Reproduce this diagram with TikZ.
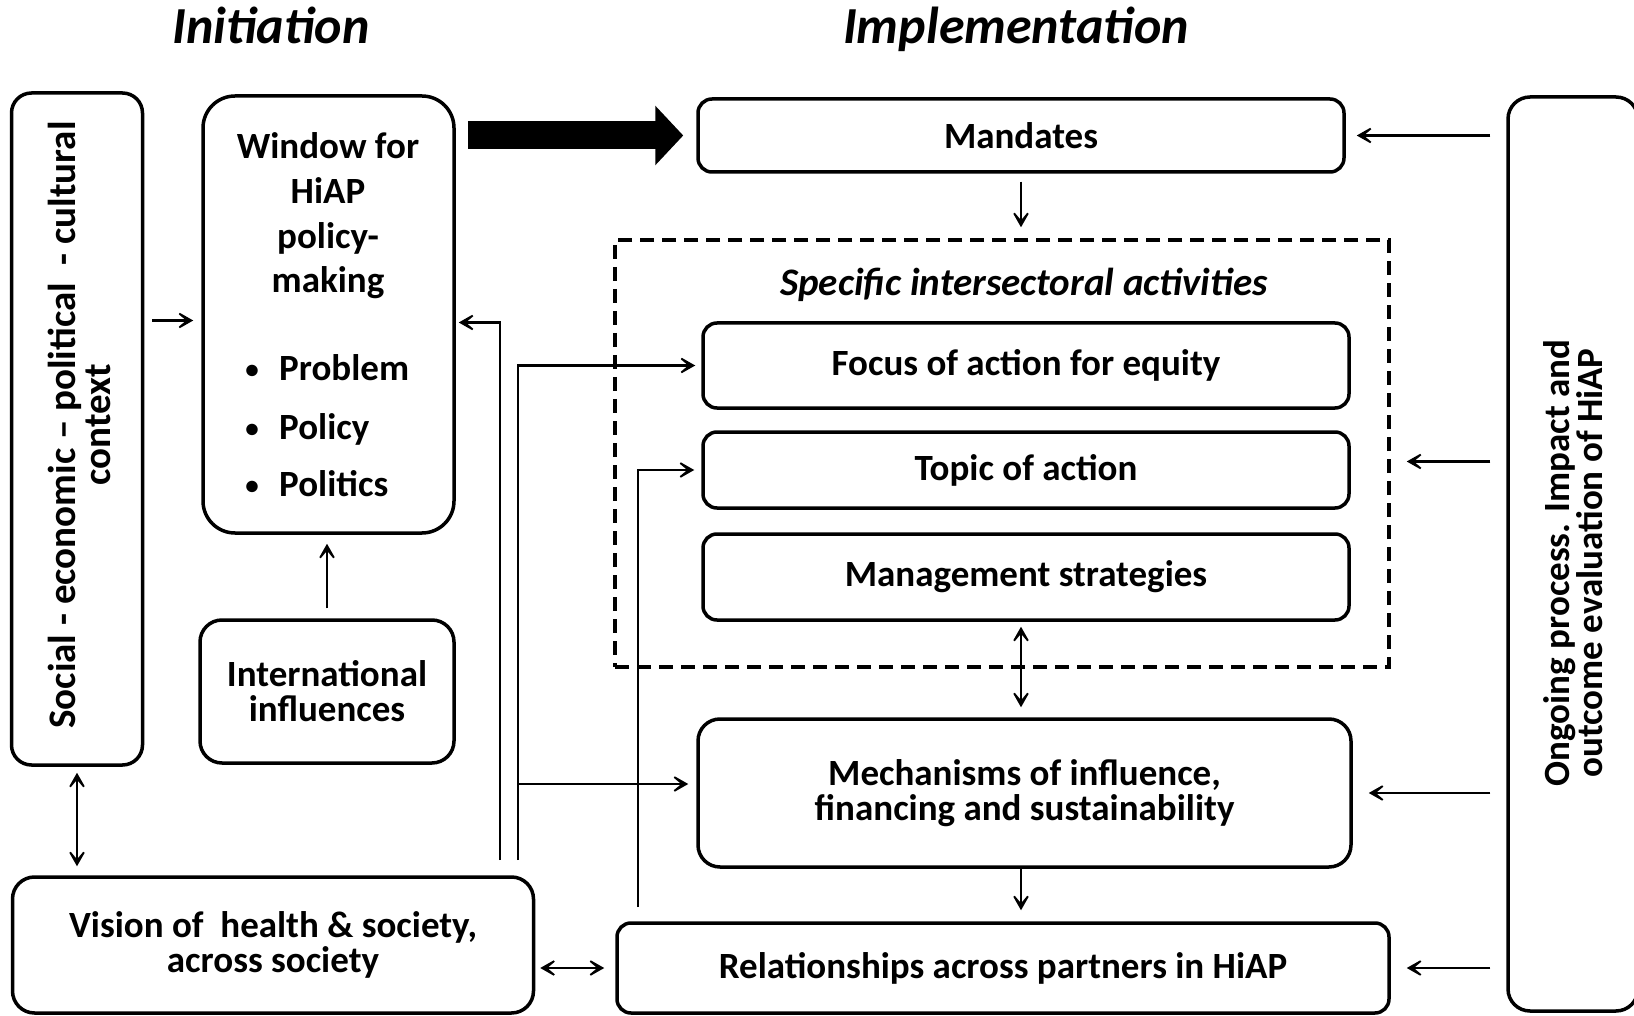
\documentclass[tikz,border=0pt]{standalone}
\usepackage{fontspec}
\setmainfont{Carlito}
\usetikzlibrary{arrows.meta}

\tikzset{
    box/.style={draw, line width=3.5pt, rounded corners=14pt, align=center, inner sep=0pt, font=\fontsize{37}{35}\selectfont\bfseries},
    txt/.style={align=center, inner sep=0pt, font=\fontsize{37}{35}\selectfont\bfseries},
    heading/.style={inner sep=0pt, anchor=base, font=\fontsize{52}{60}\selectfont\bfseries\itshape},
    arr/.style={line width=2.2pt, -{Stealth[length=22pt,width=25pt,inset=15pt]}},
    dblarr/.style={line width=2.2pt, {Stealth[length=22pt,width=25pt,inset=15pt]}-{Stealth[length=22pt,width=25pt,inset=15pt]}},
}

\begin{document}
\begin{tikzpicture}[x=1pt, y=-1pt]
    \useasboundingbox (0,0) rectangle (1634,1016);

    \node [heading] (initiation) at (271,44) {Initiation};
    \node [heading] (implementation) at (1016,44) {Implementation};

    % initiation side
    \node [box, rounded corners=20pt, minimum width=131pt, minimum height=672pt] (context) at (77,429) {};
    \node [txt, rotate=90, font=\fontsize{39}{35}\selectfont\bfseries] (contexttext) at (79,425) {Social - economic -- political\ \ - cultural\\context};

    \node [box, rounded corners=32pt, minimum width=251pt, minimum height=437pt] (window) at (328.5,314.5) {};
    \node [txt, font=\fontsize{37}{44.7}\selectfont\bfseries] (windowtext) at (328,216) {Window for\\HiAP\\policy-\\making};
    \foreach \y/\word [count=\i] in {369/Problem, 427/Policy, 484/Politics} {
        \node [txt, font=\fontsize{27}{30}\selectfont\bfseries, anchor=base] (dot\i) at (252,\y+10) {\textbullet};
        \node [txt, anchor=base west] (item\i) at (279,\y+12) {\word};
    }

    \node [box, rounded corners=22pt, minimum width=254pt, minimum height=143pt] (intl) at (327,691.5) {International\\influences};
    \node [box, rounded corners=22pt, minimum width=521pt, minimum height=136pt] (vision) at (273,945) {Vision of\ \ health \& society,\\across society};

    % implementation side
    \node [box, minimum width=646pt, minimum height=73pt] (mandates) at (1021,135.5) {Mandates};
    \node [draw, line width=3.5pt, dash pattern=on 14pt off 8pt, minimum width=774pt, minimum height=427pt, inner sep=0pt] (activities) at (1002,453.5) {};
    \node [txt, font=\fontsize{39}{35}\selectfont\bfseries\itshape] (activitiestext) at (1024,285) {Specific intersectoral activities};
    \node [box, minimum width=646pt, minimum height=85pt] (focus) at (1026,365.5) {Focus of action for equity};
    \node [box, minimum width=646pt, minimum height=76pt] (topic) at (1026,470) {Topic of action};
    \node [box, minimum width=646pt, minimum height=86pt] (mgmt) at (1026,577) {Management strategies};
    \node [box, rounded corners=22pt, minimum width=653pt, minimum height=148pt] (mech) at (1024.5,793) {Mechanisms of influence,\\financing and sustainability};
    \node [box, minimum width=772pt, minimum height=90pt] (rel) at (1003,968) {Relationships across partners in HiAP};

    \node [box, rounded corners=22pt, minimum width=130pt, minimum height=914pt] (ongoing) at (1573,554) {};
    \node [txt, rotate=90, font=\fontsize{37}{32}\selectfont\bfseries] (ongoingtext) at (1573,563) {Ongoing process. Impact and\\outcome evaluation of HiAP};

    % connectors
    \coordinate (backline) at (500,860);
    \coordinate (forwardline) at (518,860);
    \coordinate (topicline) at (638,907);
    \coordinate (mechin) at ([yshift=9pt]mech.west);
    \coordinate (activitiesin) at ([yshift=-8pt]activities.east);

    \draw [line width=28pt, -{Triangle[length=28pt,width=58pt]}] ([xshift=12pt]window.east |- mandates.west) -- ([xshift=-13pt]mandates.west);

    \draw [arr, shorten <=8pt, shorten >=8pt] ([yshift=-6pt]context.east |- window.west) -- ([yshift=-6pt]window.west);
    \draw [arr, shorten <=10pt, shorten >=9pt] (intl.north) -- (intl.north |- window.south);
    \draw [dblarr, shorten <=6pt, shorten >=9pt] (context.south) -- (context.south |- vision.north);
    \draw [arr] (backline) |- ([xshift=3pt,yshift=-8pt]window.east);
    \draw [arr, shorten >=6pt] (forwardline) |- (focus.west);
    \draw [arr, shorten >=8pt] (forwardline |- mechin) -- (mechin);
    \draw [arr, shorten >=7pt] (topicline) |- (topic.west);

    \draw [arr, shorten <=8pt, shorten >=11pt] (mandates.south) -- (mandates.south |- activities.north);
    \draw [dblarr, shorten <=5pt, shorten >=10pt] (mandates.south |- mgmt.south) -- (mandates.south |- mech.north);
    \draw [arr, shorten >=11pt] (mandates.south |- mech.south) -- (mandates.south |- rel.north);
    \draw [dblarr, shorten <=5pt, shorten >=11pt] (vision.east |- rel.west) -- (rel.west);

    \foreach \target/\gap in {mandates.east/11pt, activitiesin/16pt, mech.east/16pt, rel.east/16pt}
        \draw [arr, shorten <=16pt, shorten >=\gap] (ongoing.west |- \target) -- (\target);
\end{tikzpicture}
\end{document}
